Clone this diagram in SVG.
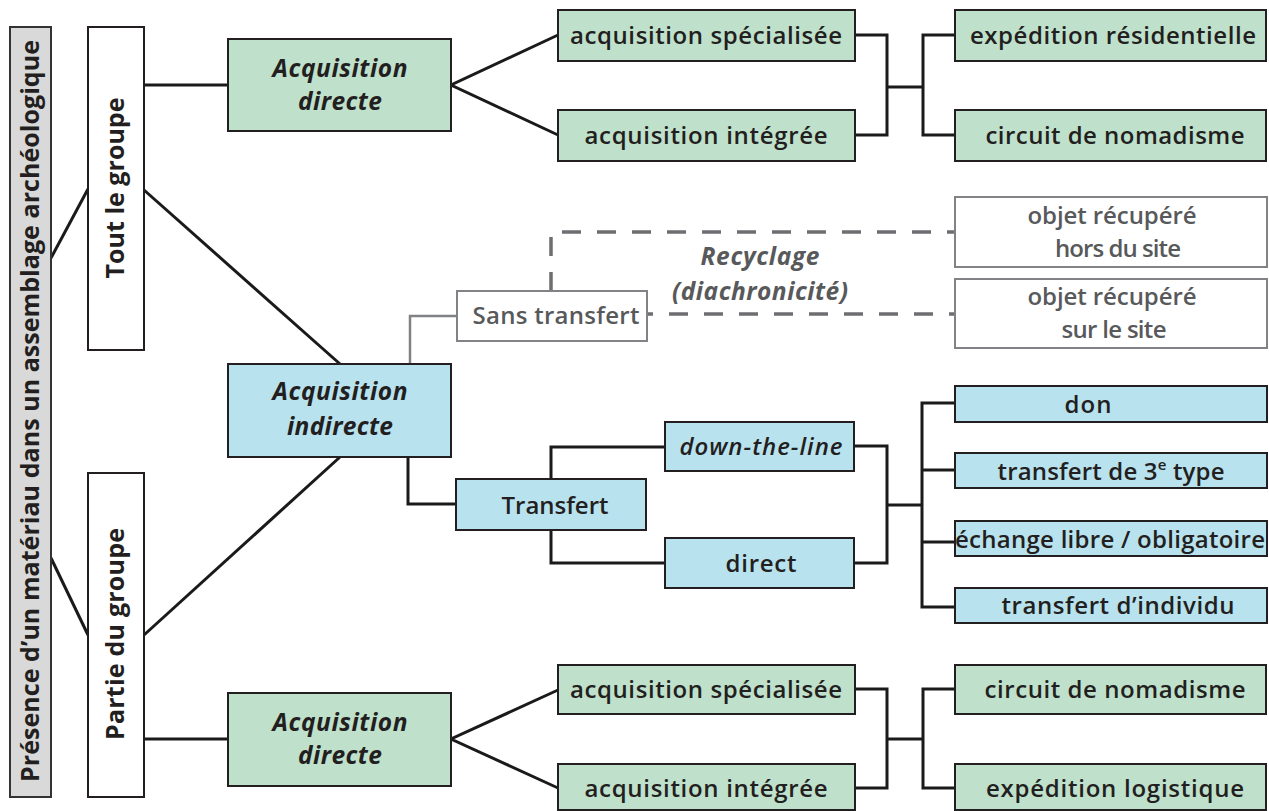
<svg xmlns="http://www.w3.org/2000/svg" width="1269" height="811" viewBox="0 0 1269 811">
<style>
.g{fill:#bfe1cc;stroke:#231f20;stroke-width:2}
.b{fill:#b9e2ef;stroke:#231f20;stroke-width:2}
.w{fill:#ffffff;stroke:#231f20;stroke-width:2}
.gw{fill:#ffffff;stroke:#808285;stroke-width:2}
.gr{fill:#d9d9d9;stroke:#333333;stroke-width:2}
text{font-family:"Open Sans","Noto Sans","Liberation Sans",sans-serif;font-size:24px;font-weight:600;fill:#231f20;text-anchor:middle}
.i{font-style:italic;font-weight:700;font-size:24.5px}
.v{font-weight:700;font-size:25px}
.gt{fill:#58595b}
.c{fill:none;stroke:#1a1a1a;stroke-width:3}
.cg{fill:none;stroke:#808285;stroke-width:2.5}
.d{fill:none;stroke:#6d6e71;stroke-width:3.5;stroke-dasharray:19 16}
</style>
<rect width="1269" height="811" fill="#ffffff"/>
<g id="connectors">
<line class="c" x1="51" y1="258" x2="88" y2="189"/>
<line class="c" x1="51" y1="558" x2="88" y2="635"/>
<line class="c" x1="144" y1="85" x2="228" y2="85"/>
<line class="c" x1="144" y1="190" x2="340" y2="364"/>
<line class="c" x1="144" y1="635" x2="340" y2="457"/>
<line class="c" x1="144" y1="739" x2="228" y2="739"/>
<polyline class="c" points="558,35 451,85 558,135"/>
<polyline class="c" points="855,35 887,35 887,135 855,135"/>
<line class="c" x1="887" y1="87" x2="923" y2="87"/>
<polyline class="c" points="955,35 923,35 923,135 955,135"/>
<polyline class="c" points="558,690 451,739 558,788"/>
<polyline class="c" points="855,689 887,689 887,788 855,788"/>
<line class="c" x1="887" y1="739" x2="923" y2="739"/>
<polyline class="c" points="955,689 923,689 923,788 955,788"/>
<polyline class="c" points="408,457 408,504 456,504"/>
<polyline class="c" points="665,447 551,447 551,479"/>
<polyline class="c" points="665,563 551,563 551,530"/>
<polyline class="c" points="854,446 887,446 887,563 854,563"/>
<line class="c" x1="887" y1="505" x2="922" y2="505"/>
<polyline class="c" points="955,403 922,403 922,607 955,607"/>
<line class="c" x1="922" y1="470" x2="955" y2="470"/>
<line class="c" x1="922" y1="542" x2="955" y2="542"/>
<polyline class="cg" points="410,364 410,316 457,316"/>
<polyline class="d" points="551,291 551,232 955,232"/>
<line class="d" x1="647" y1="314" x2="955" y2="314" stroke-dashoffset="13"/>
</g>
<g id="n-presence"><rect class="gr" x="10" y="27" width="41" height="770"/>
<text class="v" transform="translate(39,411) rotate(-90)" textLength="742">Présence d’un matériau dans un assemblage archéologique</text></g>
<g id="n-tout"><rect class="w" x="88" y="27" width="56" height="323"/>
<text class="v" transform="translate(124,188) rotate(-90)" textLength="181">Tout le groupe</text></g>
<g id="n-partie"><rect class="w" x="88" y="473" width="56" height="324"/>
<text class="v" transform="translate(124,634) rotate(-90)" textLength="212">Partie du groupe</text></g>
<g id="n-acqdir1"><rect class="g" x="228" y="39" width="223" height="92"/>
<text class="i" x="340" y="77" textLength="135">Acquisition</text><text class="i" x="340" y="110" textLength="84">directe</text></g>
<g id="n-spe1"><rect class="g" x="558" y="10" width="297" height="51"/>
<text x="706" y="44" textLength="272">acquisition spécialisée</text></g>
<g id="n-int1"><rect class="g" x="558" y="110" width="297" height="51"/>
<text x="706" y="144" textLength="243">acquisition intégrée</text></g>
<g id="n-resid"><rect class="g" x="955" y="10" width="311" height="51"/>
<text x="1113" y="44" textLength="286">expédition résidentielle</text></g>
<g id="n-circ1"><rect class="g" x="955" y="110" width="311" height="51"/>
<text x="1115" y="144" textLength="259">circuit de nomadisme</text></g>
<g id="n-sans"><rect class="gw" x="457" y="291" width="190" height="50"/>
<text class="gt" x="556" y="324" textLength="167">Sans transfert</text></g>
<g id="l-recyclage"><text class="i gt" x="760" y="265" textLength="119">Recyclage</text>
<text class="i gt" x="760" y="300" textLength="176">(diachronicité)</text></g>
<g id="n-hors"><rect class="gw" x="955" y="197" width="312" height="70"/>
<text class="gt" x="1112" y="224" textLength="169">objet récupéré</text><text class="gt" x="1118" y="257" textLength="126">hors du site</text></g>
<g id="n-sur"><rect class="gw" x="955" y="279" width="312" height="69"/>
<text class="gt" x="1112" y="305" textLength="169">objet récupéré</text><text class="gt" x="1114" y="338" textLength="105">sur le site</text></g>
<g id="n-indir"><rect class="b" x="228" y="364" width="223" height="93"/>
<text class="i" x="340" y="400" textLength="135">Acquisition</text><text class="i" x="340" y="435" textLength="106">indirecte</text></g>
<g id="n-transfert"><rect class="b" x="456" y="479" width="190" height="51"/>
<text x="555" y="514" textLength="107">Transfert</text></g>
<g id="n-dtl"><rect class="b" x="665" y="422" width="189" height="49"/>
<text x="761" y="455" textLength="163" style="font-style:italic">down-the-line</text></g>
<g id="n-direct"><rect class="b" x="665" y="538" width="189" height="50"/>
<text x="761" y="572" textLength="71">direct</text></g>
<g id="n-don"><rect class="b" x="955" y="386" width="312" height="36"/>
<text x="1088" y="413" textLength="47">don</text></g>
<g id="n-3e"><rect class="b" x="955" y="453" width="312" height="35"/>
<text x="1111" y="480" textLength="227">transfert de 3<tspan dy="-10" font-size="15">e</tspan><tspan dy="10"> type</tspan></text></g>
<g id="n-echange"><rect class="b" x="955" y="521" width="312" height="35"/>
<text x="1110" y="548" textLength="310">échange libre / obligatoire</text></g>
<g id="n-individu"><rect class="b" x="955" y="588" width="312" height="35"/>
<text x="1118" y="614" textLength="233">transfert d’individu</text></g>
<g id="n-acqdir2"><rect class="g" x="228" y="693" width="223" height="93"/>
<text class="i" x="340" y="731" textLength="135">Acquisition</text><text class="i" x="340" y="764" textLength="84">directe</text></g>
<g id="n-spe2"><rect class="g" x="558" y="665" width="297" height="49"/>
<text x="706" y="698" textLength="272">acquisition spécialisée</text></g>
<g id="n-int2"><rect class="g" x="558" y="764" width="297" height="46"/>
<text x="706" y="797" textLength="243">acquisition intégrée</text></g>
<g id="n-circ2"><rect class="g" x="955" y="665" width="311" height="49"/>
<text x="1115" y="698" textLength="261">circuit de nomadisme</text></g>
<g id="n-logist"><rect class="g" x="955" y="764" width="311" height="46"/>
<text x="1115" y="797" textLength="258">expédition logistique</text></g>
</svg>
